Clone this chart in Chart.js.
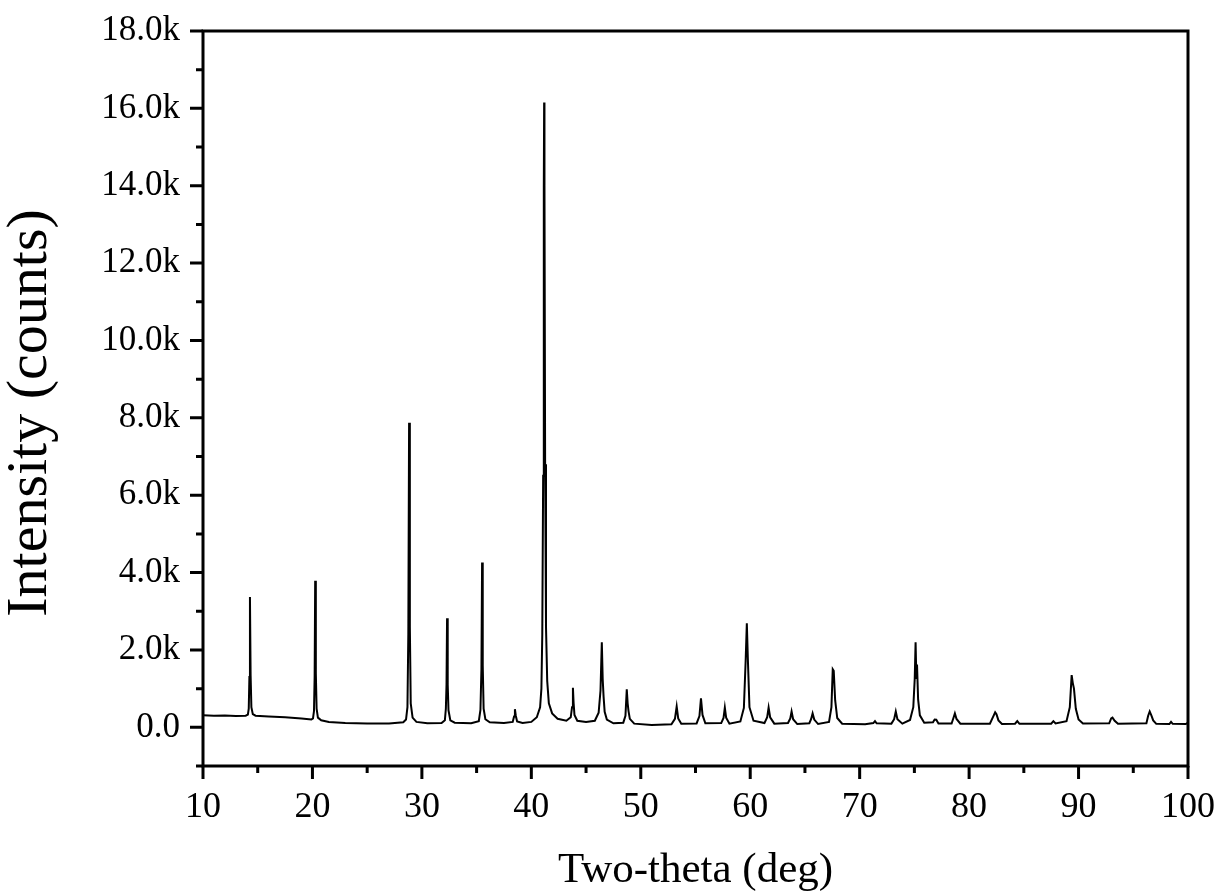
<!DOCTYPE html>
<html>
<head>
<meta charset="utf-8">
<script src="https://cdn.jsdelivr.net/npm/chart.js@4.4.0/dist/chart.umd.min.js"></script>
<style>
  html, body { margin: 0; padding: 0; background: #fff; }
  #wrap { width: 1219px; height: 892px; }
</style>
</head>
<body>
<div id="wrap"><canvas id="c" width="1219" height="892"></canvas></div>
<script>
// XRD scan: [two-theta (deg), intensity (counts)]
const scan = [
  [10.0,310],[11.0,300],[12.0,305],[13.0,295],[13.9,300],[14.1,330],[14.18,480],[14.24,1300],
  [14.29,3370],[14.35,1350],[14.42,520],[14.55,340],[14.8,300],[16.0,280],[17.5,260],[19.0,230],
  [19.9,200],[20.05,230],[20.14,420],[20.2,1300],[20.25,3790],[20.31,1400],[20.38,480],[20.5,250],
  [20.8,180],[21.5,140],[23.0,110],[25.0,100],[27.0,100],[28.3,130],[28.55,200],[28.68,520],
  [28.76,2400],[28.83,7870],[28.9,2600],[28.98,620],[29.15,250],[29.5,140],[30.5,105],[31.8,110],
  [32.1,180],[32.19,480],[32.25,1100],[32.3,2820],[32.36,1100],[32.43,440],[32.6,180],[33.0,120],
  [34.5,105],[35.2,160],[35.35,450],[35.44,1500],[35.5,4260],[35.56,1600],[35.64,480],[35.8,210],
  [36.2,130],[37.5,110],[38.3,140],[38.42,280],[38.5,470],[38.58,300],[38.7,150],[39.2,110],
  [40.0,140],[40.5,260],[40.8,520],[40.92,1000],[41.0,2400],[41.08,6500],[41.14,14000],[41.17,16150],
  [41.2,14000],[41.26,6800],[41.34,2600],[41.45,1200],[41.6,620],[41.9,360],[42.4,220],[43.2,170],
  [43.6,260],[43.72,520],[43.8,1020],[43.86,640],[43.94,320],[44.2,170],[45.0,140],[45.8,170],
  [46.15,380],[46.32,950],[46.44,2200],[46.52,1250],[46.6,800],[46.7,400],[46.9,200],[47.5,105],
  [48.4,120],[48.6,300],[48.72,980],[48.8,620],[48.88,420],[49.0,220],[49.4,95],[51.0,60],
  [52.8,80],[53.12,220],[53.28,540],[53.42,230],[53.7,90],[55.1,100],[55.36,290],[55.5,750],
  [55.64,320],[55.9,105],[57.35,110],[57.56,240],[57.68,510],[57.8,250],[58.1,95],[59.1,150],
  [59.42,500],[59.58,1700],[59.69,2690],[59.78,1800],[59.93,520],[60.3,170],[61.3,110],[61.55,260],
  [61.68,510],[61.82,260],[62.2,95],[63.45,110],[63.66,230],[63.78,410],[63.92,210],[64.3,85],
  [65.4,105],[65.56,210],[65.7,360],[65.85,200],[66.2,85],[67.2,140],[67.42,520],[67.54,1500],
  [67.63,1460],[67.76,700],[67.95,240],[68.4,95],[70.5,80],[71.25,110],[71.4,160],[71.55,105],
  [72.9,95],[73.15,210],[73.3,410],[73.45,210],[73.9,95],[74.6,190],[74.9,520],[75.03,1250],
  [75.11,2200],[75.18,1250],[75.24,1620],[75.34,720],[75.5,310],[75.9,120],[76.7,130],[76.85,200],
  [77.0,195],[77.2,100],[78.4,100],[78.56,235],[78.7,360],[78.85,215],[79.2,95],[81.9,95],
  [82.22,290],[82.38,390],[82.5,340],[82.68,180],[83.0,85],[84.2,95],[84.4,160],[84.6,90],
  [87.5,95],[87.7,160],[87.9,100],[88.9,160],[89.2,520],[89.37,1350],[89.47,1150],[89.58,1000],
  [89.75,480],[90.0,200],[90.4,100],[92.8,105],[92.98,230],[93.1,250],[93.3,170],[93.6,90],
  [96.2,105],[96.36,300],[96.5,410],[96.66,300],[96.82,180],[97.1,90],[98.3,85],[98.45,140],
  [98.6,90],[99.8,85],[100.0,120]
];

const xMajor = [10, 20, 30, 40, 50, 60, 70, 80, 90, 100];
const xMinor = [15, 25, 35, 45, 55, 65, 75, 85, 95];
const yMajor = [0, 2000, 4000, 6000, 8000, 10000, 12000, 14000, 16000, 18000];
const yMinor = [-1000, 1000, 3000, 5000, 7000, 9000, 11000, 13000, 15000, 17000];
const yLabels = ['0.0', '2.0k', '4.0k', '6.0k', '8.0k', '10.0k', '12.0k', '14.0k', '16.0k', '18.0k'];

const SERIF = '"Liberation Serif", "Times New Roman", serif';

// frame + outward major/minor ticks, placed through the chart's own scales
const frameTicks = {
  id: 'frameTicks',
  afterDatasetsDraw(chart) {
    const { ctx, chartArea: a, scales: { x, y } } = chart;
    ctx.save();
    ctx.strokeStyle = '#000';
    ctx.lineWidth = 3;
    ctx.lineCap = 'square';
    ctx.strokeRect(a.left, a.top, a.right - a.left, a.bottom - a.top);

    ctx.lineCap = 'butt';
    ctx.beginPath();
    xMajor.forEach(v => { const p = x.getPixelForValue(v); ctx.moveTo(p, a.bottom); ctx.lineTo(p, a.bottom + 13); });
    xMinor.forEach(v => { const p = x.getPixelForValue(v); ctx.moveTo(p, a.bottom); ctx.lineTo(p, a.bottom + 7); });
    yMajor.forEach(v => { const p = y.getPixelForValue(v); ctx.moveTo(a.left, p); ctx.lineTo(a.left - 13, p); });
    yMinor.forEach(v => { const p = y.getPixelForValue(v); ctx.moveTo(a.left, p); ctx.lineTo(a.left - 7, p); });
    ctx.stroke();
    ctx.restore();
  }
};

new Chart(document.getElementById('c'), {
  type: 'line',
  data: {
    datasets: [{
      data: scan.map(([t, c]) => ({ x: t, y: c })),
      borderColor: '#000',
      borderWidth: 2,
      pointRadius: 0,
      tension: 0,
      fill: false
    }]
  },
  options: {
    animation: false,
    responsive: false,
    devicePixelRatio: 1,
    layout: { padding: { left: 0, right: 31, top: 31, bottom: 0 } },
    plugins: { legend: { display: false }, tooltip: { enabled: false } },
    scales: {
      x: {
        type: 'linear',
        min: 10, max: 100,
        afterFit: s => { s.height = 126; s.paddingLeft = 0; s.paddingRight = 0; },
        afterBuildTicks: s => { s.ticks = xMajor.map(v => ({ value: v })); },
        grid: { display: false },
        border: { display: false },
        ticks: {
          color: '#000', padding: 12, maxRotation: 0, autoSkip: false,
          font: { family: SERIF, size: 36 },
          callback: v => String(v)
        },
        title: {
          display: true, text: 'Two-theta (deg)', color: '#000',
          font: { family: SERIF, size: 43, lineHeight: 1 },
          padding: { top: 0, bottom: 0 }
        }
      },
      y: {
        type: 'linear',
        min: -1000, max: 18000,
        afterFit: s => { s.width = 203; s.paddingTop = 0; s.paddingBottom = 0; },
        afterBuildTicks: s => { s.ticks = yMajor.map(v => ({ value: v })); },
        grid: { display: false },
        border: { display: false },
        ticks: {
          color: '#000', padding: 15, autoSkip: false,
          font: { family: SERIF, size: 35 },
          callback: (v, i) => yLabels[i]
        },
        title: {
          display: true, text: 'Intensity (counts)  ', color: '#000',
          font: { family: SERIF, size: 58, lineHeight: 1 },
          padding: { top: 2, bottom: 0 }
        }
      }
    }
  },
  plugins: [frameTicks]
});
</script>
</body>
</html>
